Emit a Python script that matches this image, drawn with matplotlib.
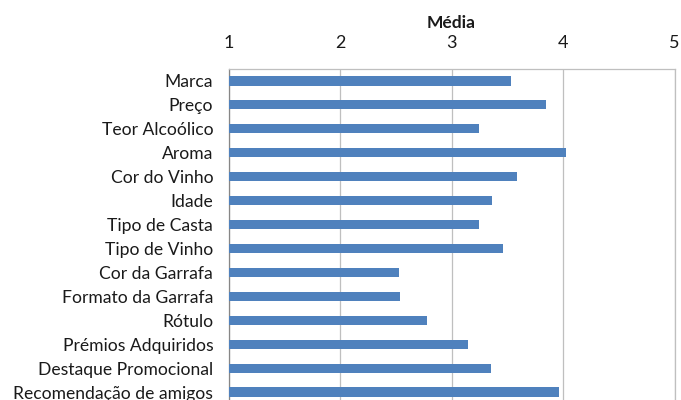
import matplotlib
matplotlib.use("Agg")
import matplotlib.pyplot as plt

categories = ["Marca", "Preço", "Teor Alcoólico", "Aroma", "Cor do Vinho", "Idade",
              "Tipo de Casta", "Tipo de Vinho", "Cor da Garrafa", "Formato da Garrafa",
              "Rótulo", "Prémios Adquiridos", "Destaque Promocional", "Recomendação de amigos"]
values = [3.53, 3.85, 3.25, 4.03, 3.59, 3.36, 3.25, 3.46, 2.53, 2.54, 2.78, 3.15, 3.35, 3.96]
xticks = [1, 2, 3, 4, 5]
axis_title = "Média"

plt.rcParams['font.family'] = ['Lato', 'DejaVu Sans']

fig = plt.figure(figsize=(6.81, 4.0), dpi=100)
ax = fig.add_axes([228.5/681, 1 - 404/400, (674.7-228.5)/681, (404-69)/400])

ypos = list(range(len(categories)))
ax.barh(ypos, [v - 1 for v in values], left=1, height=0.38, color="#4F81BD", zorder=3)
ax.set_ylim(len(categories) - 0.5, -0.5)
ax.set_xlim(1, 5)
ax.set_yticks(ypos)
ax.set_yticklabels(categories, fontsize=12.6, color="#1a1a1a")
ax.set_xticks(xticks)
ax.set_xticklabels([str(t) for t in xticks], fontsize=13, color="#1a1a1a")
ax.xaxis.tick_top()
ax.xaxis.set_label_position("top")
ax.set_xlabel(axis_title, fontsize=12.5, fontweight="bold", labelpad=5, color="#1a1a1a")
ax.tick_params(axis="y", length=0, pad=11)
ax.tick_params(axis="x", length=0, pad=13)
ax.grid(axis="x", color="#BFBFBF", linewidth=0.9, zorder=0)
for s in ["top", "right", "bottom"]:
    ax.spines[s].set_color("#BFBFBF")
    ax.spines[s].set_linewidth(0.9)
ax.spines["left"].set_color("#868686")
ax.spines["left"].set_linewidth(0.9)

fig.savefig("out.png", dpi=100)
